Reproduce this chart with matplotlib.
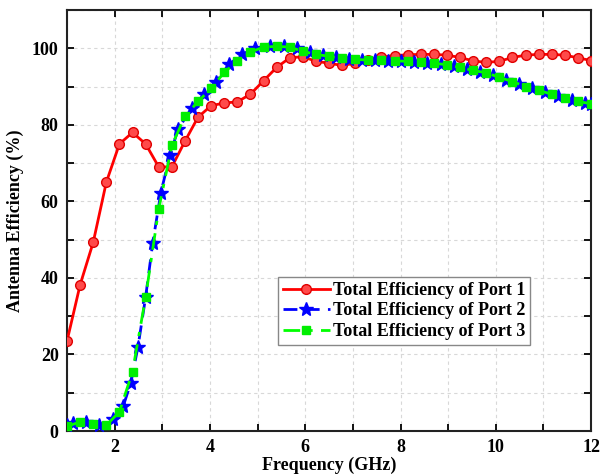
import matplotlib.pyplot as plt
import numpy as np

plt.rcParams.update({
    'font.family': 'serif',
    'font.serif': ['Liberation Serif', 'DejaVu Serif'],
    'font.weight': 'bold',
})

# frequency grid (GHz) for port 1 / port 3
freq = [1.0, 1.275, 1.55, 1.825, 2.1, 2.375, 2.65, 2.925, 3.2, 3.475,
        3.75, 4.025, 4.3, 4.575, 4.85, 5.125, 5.4, 5.675, 5.95, 6.225,
        6.5, 6.775, 7.05, 7.325, 7.6, 7.875, 8.15, 8.425, 8.7, 8.975,
        9.25, 9.525, 9.8, 10.075, 10.35, 10.625, 10.9, 11.175, 11.45, 11.725, 12.0]

eff_port1 = [23.5, 38.2, 49.3, 65.0, 75.0, 78.0, 75.0, 69.0, 69.0, 75.7,
             82.0, 85.0, 85.7, 86.0, 88.0, 91.5, 95.0, 97.5, 97.8, 96.6,
             96.1, 95.5, 96.1, 96.9, 97.7, 98.1, 98.3, 98.4, 98.4, 98.2,
             97.6, 96.7, 96.3, 96.6, 97.6, 98.2, 98.4, 98.4, 98.2, 97.5, 96.8]

eff_port3 = [1.2, 2.4, 1.8, 1.5, 5.0, 15.5, 35.0, 58.0, 74.6, 82.2,
             86.1, 89.5, 93.7, 96.6, 99.0, 100.3, 100.5, 100.3, 99.2, 98.4,
             97.9, 97.4, 97.1, 96.9, 96.9, 96.7, 96.6, 96.3, 96.1, 95.7,
             95.0, 94.2, 93.6, 92.4, 91.3, 90.0, 89.0, 88.0, 87.1, 86.1, 85.5]

# port 2 sampled on its own grid
freq_p2 = [1.0, 1.13, 1.40, 1.67, 1.97, 2.18, 2.34, 2.49, 2.65, 2.80,
           2.97, 3.16, 3.33, 3.62, 3.88, 4.12, 4.40, 4.67, 4.95, 5.26,
           5.55, 5.82, 6.09, 6.365, 6.64, 6.915, 7.19, 7.465, 7.74, 8.015,
           8.29, 8.565, 8.84, 9.115, 9.39, 9.665, 9.94, 10.215, 10.49, 10.765,
           11.04, 11.315, 11.59, 11.865, 12.0]
eff_port2 = [1.5, 2.1, 2.4, 1.6, 3.2, 6.5, 12.6, 22.0, 35.0, 49.2,
             62.3, 72.0, 78.8, 84.5, 88.0, 91.3, 95.8, 98.4, 100.0, 100.6,
             100.6, 100.0, 98.9, 98.2, 97.7, 97.3, 97.0, 96.9, 96.8, 96.7,
             96.5, 96.2, 95.9, 95.4, 94.6, 93.9, 93.0, 91.8, 90.6, 89.5,
             88.5, 87.5, 86.6, 85.8, 85.4]

fig = plt.figure(figsize=(6.01, 4.76), dpi=100)
ax = fig.add_axes([0.1115, 0.0945, 0.872, 0.8845])

ax.plot(freq, eff_port1, color='red', lw=2.0, marker='o', ms=7,
        mfc='#ff4a4a', mec='#e00000', mew=1.0, label='Total Efficiency of Port 1', zorder=3)
ax.plot(freq_p2, eff_port2, color='#0000ff', lw=2.0, ls=(0, (5, 3)), marker='*', ms=10,
        mfc='#0000ff', mec='#0000ff', label='Total Efficiency of Port 2', zorder=4)
ax.plot(freq, eff_port3, color='#00ff00', lw=2.0, ls=(0, (6, 3, 1.5, 3)), marker='s', ms=6,
        mfc='#00ee00', mec='#00ee00', label='Total Efficiency of Port 3', zorder=5)

ax.set_xlim(1, 12)
ax.set_ylim(0, 110)
ax.set_xticks([2, 4, 6, 8, 10, 12])
ax.set_xticks(np.arange(1, 13, 1), minor=True)
ax.set_yticks([0, 20, 40, 60, 80, 100])
ax.set_yticks(np.arange(0, 111, 10), minor=True)

ax.grid(True, which='both', ls=(0, (3, 3)), color='#d8d8d8', lw=0.8)
ax.set_axisbelow(True)

ax.tick_params(which='both', direction='in', top=True, right=True, length=5, width=1.3,
               labelsize=13, pad=6)
for lab in ax.get_xticklabels() + ax.get_yticklabels():
    lab.set_fontweight('bold')
for sp in ax.spines.values():
    sp.set_linewidth(1.5)
    sp.set_color('#222222')

ax.set_xlabel('Frequency (GHz)', fontsize=13, fontweight='bold', labelpad=0)
ax.set_ylabel('Antenna Efficiency (%)', fontsize=13, fontweight='bold', labelpad=6)

leg = ax.legend(loc='upper left', bbox_to_anchor=(0.403, 0.365),
                prop={'weight': 'bold', 'size': 13}, handlelength=2.6, handletextpad=0.2,
                labelspacing=0.2, borderpad=0.25, borderaxespad=0, fancybox=False,
                framealpha=1, edgecolor='#888888', numpoints=1)
leg.get_frame().set_linewidth(1.0)

fig.savefig('out.png', dpi=100)
